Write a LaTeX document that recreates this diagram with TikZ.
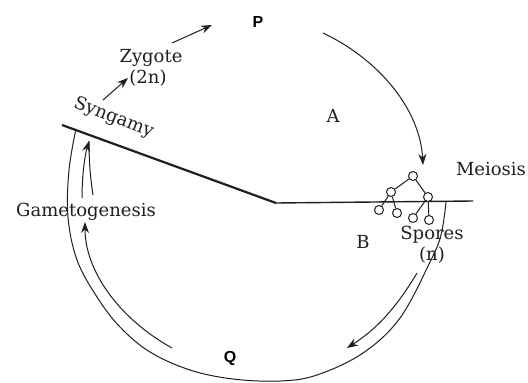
\documentclass[tikz,border=0pt]{standalone}
\usepackage{fontspec}
\setmainfont{DejaVu Serif}
\newfontfamily\labfont{Liberation Sans}
\usetikzlibrary{arrows.meta}
\begin{document}
\begin{tikzpicture}[x=1pt,y=-1pt,
  line/.style={draw=black!88, line width=1pt},
  arr/.style={line, -{Stealth[length=11pt,width=8pt]}},
  txt/.style={text=black!88, font=\fontsize{18}{21}\selectfont, inner sep=0pt, anchor=base},
  big/.style={text=black, font=\labfont\bfseries\fontsize{16}{18}\selectfont, inner sep=0pt, anchor=base},
  spore/.style={circle, draw=black!88, line width=1pt, minimum size=9pt, inner sep=0pt, fill=white}]
\useasboundingbox (0,0) rectangle (528,383);
\fill[white] (0,0) rectangle (528,383);

% dividing lines
\coordinate (s1) at (62,125);
\coordinate (s2) at (276,203);
\coordinate (h2) at (473,201);
\draw[line, line width=2.2pt] (s1) -- (s2);
\draw[line, line width=1.4pt] (s2) -- (h2);

% outer cycle line
\draw[line] plot[smooth, tension=0.6] coordinates {(76,129) (69,170) (68,217) (77,260) (97,297) (120,327) (150,352) (190,370) (233,379) (280,381) (317,375) (363,353) (400,318) (430,262) (441,235) (446,202)};

% labels
\node[big] (P) at (258,27) {P};
\node[big] (Q) at (230,362) {Q};
\node[txt] (A) at (333,122) {A};
\node[txt] (B) at (363,248) {B};
\node[txt] (zyg) at (151,62) {Zygote};
\node[txt] (zygn) at (148,83) {(2n)};
\node[txt, rotate=-21] (syn) at (112,122) {Syngamy};
\node[txt] (mei) at (491,175) {Meiosis};
\node[txt] (spo) at (432,239) {Spores};
\node[txt] (hap) at (432,260) {(n)};
\node[txt] (gam) at (86,216) {Gametogenesis};

% arrows
\coordinate (pa) at (323,33);
\coordinate (pb) at (423,165);
\draw[arr] (pa) .. controls (380,60) and (420,110) .. (pb);

\coordinate (ra) at (417,273);
\coordinate (rb) at (347,348);
\draw[arr] (ra) .. controls (395,310) and (375,330) .. (rb);

\coordinate (qa) at (172,348);
\coordinate (qb) at (85,222);
\draw[arr] (qa) .. controls (118,318) and (85,270) .. (qb);

\coordinate (ga1) at (82,198);
\coordinate (ga2) at (93,195);
\coordinate (gt) at (89,141);
\draw[line] (ga2) .. controls (90,175) and (89,160) .. (gt);
\draw[arr] (ga1) .. controls (82,175) and (85,155) .. (gt);

\coordinate (za) at (103,100);
\coordinate (zb) at (128,78);
\draw[arr] (za) -- (zb);
\coordinate (zc) at (172,43);
\coordinate (zd) at (212,25);
\draw[arr] (zc) -- (zd);

% meiosis tree
\node[spore] (t0) at (413,176) {};
\node[spore] (t1) at (391,192) {};
\node[spore] (t2) at (428,197) {};
\node[spore] (t3) at (379,210) {};
\node[spore] (t4) at (397,213) {};
\node[spore] (t5) at (413,218) {};
\node[spore] (t6) at (429,220) {};
\draw[line] (t0) -- (t1);
\draw[line] (t0) -- (t2);
\draw[line] (t1) -- (t3);
\draw[line] (t1) -- (t4);
\draw[line] (t2) -- (t5);
\draw[line] (t2) -- (t6);
\end{tikzpicture}
\end{document}
